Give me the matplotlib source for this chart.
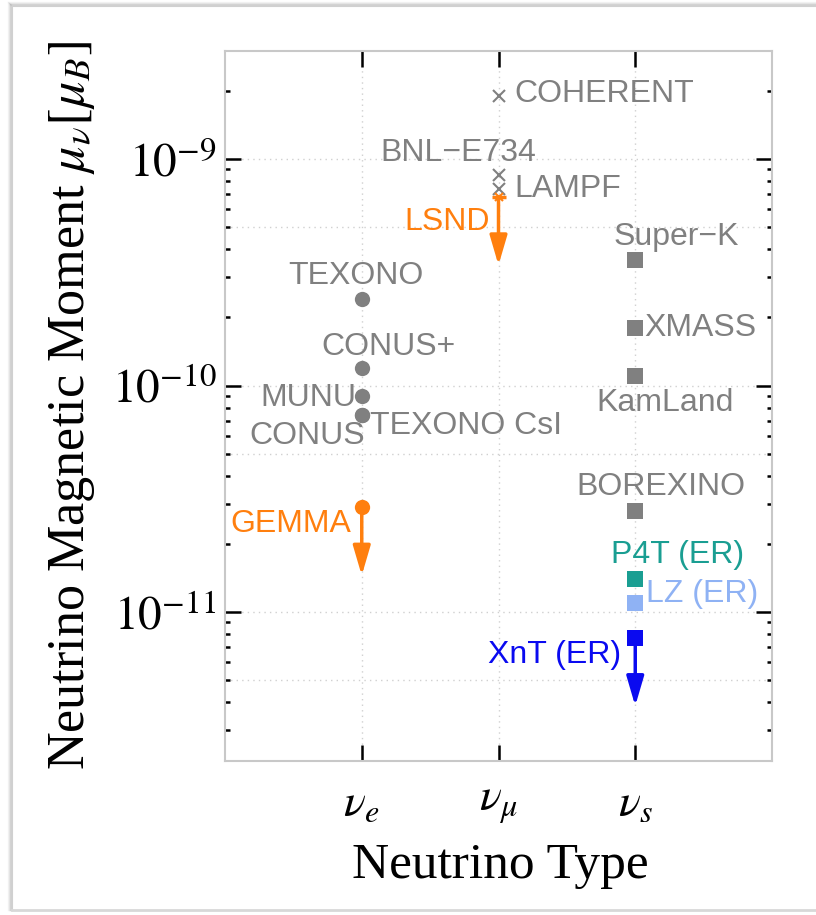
import numpy as np
import matplotlib.pyplot as plt
from matplotlib.lines import Line2D
from matplotlib.ticker import NullFormatter, FixedLocator

plt.rcParams['mathtext.fontset'] = 'stix'
plt.rcParams['font.family'] = 'Liberation Serif'

# Experiments: name, neutrino type (1=nu_e, 2=nu_mu, 3=nu_s), limit in mu_B
names = ['COHERENT', 'BNL\u2212E734', 'LAMPF', 'LSND',
         'TEXONO', 'CONUS+', 'MUNU', 'CONUS', 'TEXONO CsI', 'GEMMA',
         'Super\u2212K', 'XMASS', 'KamLand', 'BOREXINO',
         'P4T (ER)', 'LZ (ER)', 'XnT (ER)']
types = [2, 2, 2, 2,
         1, 1, 1, 1, 1, 1,
         3, 3, 3, 3,
         3, 3, 3]
limits = [1.9e-9, 8.5e-10, 7.4e-10, 6.8e-10,
          2.4e-10, 1.2e-10, 9.0e-11, 7.4e-11, 7.4e-11, 2.9e-11,
          3.6e-10, 1.8e-10, 1.1e-10, 2.8e-11,
          1.4e-11, 1.1e-11, 7.7e-12]
upper_arrow = ['LSND', 'GEMMA', 'XnT (ER)']

type_labels = [r'$\nu_e$', r'$\nu_\mu$', r'$\nu_s$']
decades = [1e-11, 1e-10, 1e-9]
y_labels = [r'$10^{-11}$', r'$10^{-10}$', r'$10^{-9}$']

# styles
GRAY = '#808080'
ORANGE = '#ff7f0e'
colors = {'LSND': ORANGE, 'GEMMA': ORANGE, 'P4T (ER)': '#1a9e92',
          'LZ (ER)': '#8fb2f4', 'XnT (ER)': '#0a0af0'}
markers = {'COHERENT': 'x', 'BNL\u2212E734': 'x', 'LAMPF': 'x', 'LSND': None,
           'TEXONO': 'o', 'CONUS+': 'o', 'MUNU': 'o', 'CONUS': 'o',
           'TEXONO CsI': 'o', 'GEMMA': 'o'}
# label offset in pixels and alignment
label_pos = {
    'COHERENT': (16, 2, 'left'),
    'BNL\u2212E734': (38, 22, 'right'),
    'LAMPF': (16, 0, 'left'),
    'LSND': (-9, -25, 'right'),
    'TEXONO': (-6, 23, 'center'),
    'CONUS+': (27, 21, 'center'),
    'MUNU': (-5, -2, 'right'),
    'CONUS': (3, -21, 'right'),
    'TEXONO CsI': (8, -11, 'left'),
    'GEMMA': (-10, -17, 'right'),
    'Super\u2212K': (-22, 23, 'left'),
    'XMASS': (9, 0, 'left'),
    'KamLand': (-39, -27, 'left'),
    'BOREXINO': (-59, 24, 'left'),
    'P4T (ER)': (-24, 24, 'left'),
    'LZ (ER)': (11, 9, 'left'),
    'XnT (ER)': (-14, -17, 'right'),
}

fig = plt.figure(figsize=(8.16, 9.15), dpi=100)
ax = fig.add_axes([225 / 816, 154 / 915, 547 / 816, 710 / 915])

ax.set_yscale('log')
ax.set_xlim(0, 4)
ax.set_ylim(2.2e-12, 3.0e-9)

# grid
for xg in [1, 2, 3]:
    ax.axvline(xg, color='#d0d0d0', lw=1, ls=(0, (1, 3)), zorder=0)
for yg in [5e-12, 1e-11, 5e-11, 1e-10, 5e-10, 1e-9]:
    ax.axhline(yg, color='#d0d0d0', lw=1, ls=(0, (1, 3)), zorder=0)

for n, t, v in zip(names, types, limits):
    c = colors.get(n, GRAY)
    m = markers.get(n, 's')
    if n in upper_arrow:
        ax.annotate('', xy=(t, v / 2.0), xytext=(t, v),
                    arrowprops=dict(arrowstyle='-|>,head_length=0.75,head_width=0.22',
                                    lw=2.5, color=c, mutation_scale=24,
                                    shrinkA=0, shrinkB=0), zorder=3)
    if m == 'x':
        ax.plot(t, v, marker='x', ms=8.5, mew=1.5, color=c, ls='none', zorder=4)
    elif m is None:
        ax.plot(t, v, marker='_', ms=10, mew=2.5, color=c, ls='none', zorder=4)
        ax.plot(t, v, marker='x', ms=6, mew=1.5, color=c, ls='none', zorder=4)
    else:
        ax.plot(t, v, marker=m, ms=11, mew=0, color=c, ls='none', zorder=4)
    dx, dy, ha = label_pos[n]
    ax.annotate(n, xy=(t, v), xytext=(dx, dy), textcoords='offset pixels',
                ha=ha, va='center', color=c, fontsize=23,
                family='Liberation Sans', zorder=5)

# ticks
ax.xaxis.set_major_locator(FixedLocator([1, 2, 3]))
ax.set_xticklabels(type_labels)
ax.yaxis.set_major_locator(FixedLocator(decades))
ax.set_yticklabels(y_labels)
minor = [k * 10.0 ** e for e in range(-12, -8) for k in range(2, 10)]
minor = [m for m in minor if 2.2e-12 <= m <= 3.0e-9]
ax.yaxis.set_minor_locator(FixedLocator(minor))
ax.yaxis.set_minor_formatter(NullFormatter())
ax.tick_params(axis='both', which='major', direction='in', length=11.5, width=1.8,
               color='black', top=True, right=True)
ax.tick_params(axis='y', which='minor', direction='in', length=3.8, width=1.8,
               color='black', left=True, right=True)
ax.tick_params(axis='x', which='minor', bottom=False, top=False)
ax.tick_params(axis='y', which='major', labelsize=34, pad=6)
ax.tick_params(axis='x', which='major', labelsize=33, pad=16)

for s in ax.spines.values():
    s.set_color('#c8c8c8')
    s.set_linewidth(1.5)

fig.text(72 / 816, 1 - 406 / 915, r'Neutrino Magnetic Moment $\mu_\nu[\mu_B]$',
         rotation=90, ha='center', va='center', fontsize=37.5)
fig.text(500 / 816, 1 - 866 / 915, 'Neutrino Type', ha='center', va='center',
         fontsize=37)

# screenshot frame with soft shadow
W, H = 816.0, 915.0
for off, a in [(4, 0.08), (3, 0.15), (2, 0.25), (1, 0.4)]:
    fig.add_artist(Line2D([(12 - off) / W, (12 - off) / W], [1 - (6 - off) / H, 1 - 910 / H],
                          transform=fig.transFigure, color='gray', alpha=a, lw=1))
    fig.add_artist(Line2D([(12 - off) / W, 1], [1 - (6 - off) / H, 1 - (6 - off) / H],
                          transform=fig.transFigure, color='gray', alpha=a, lw=1))
fig.add_artist(Line2D([12 / W, 12 / W, 1], [1 - 910 / H, 1 - 6 / H, 1 - 6 / H],
                      transform=fig.transFigure, color='#d0d0d0', lw=1.5))
fig.add_artist(Line2D([12 / W, 1], [1 - 910 / H, 1 - 910 / H],
                      transform=fig.transFigure, color='#d8d8d8', lw=2))

fig.savefig('out.png', dpi=100)
